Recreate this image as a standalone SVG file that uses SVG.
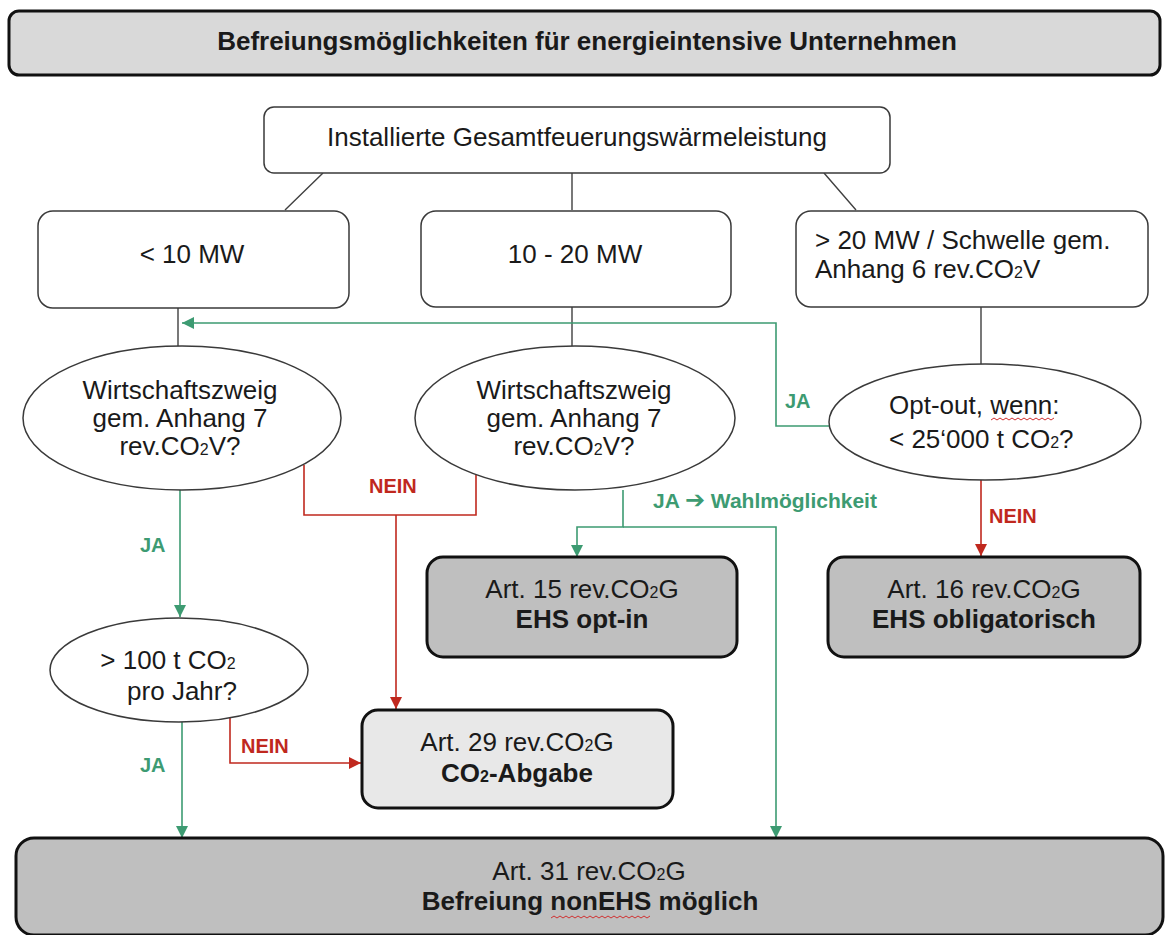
<svg xmlns="http://www.w3.org/2000/svg" width="1165" height="935" viewBox="0 0 1165 935">
<defs>
<style>
text{font-family:"Liberation Sans",Arial,sans-serif;fill:#1a1a1a}
.t{font-size:26px}
.b{font-size:26px;font-weight:bold}
.c{text-anchor:middle}
.sub{font-size:16px}
.lbl{font-size:20px;font-weight:bold}
.g{fill:#3d9b72}
.r{fill:#c0281e}
.thin{fill:#fff;stroke:#3a3a3a;stroke-width:1.5}
.thick{stroke:#111;stroke-width:3}
.blk{fill:none;stroke:#404040;stroke-width:1.4}
.gl{fill:none;stroke:#3d9b72;stroke-width:1.6}
.rl{fill:none;stroke:#c0281e;stroke-width:1.6}
</style>
<marker id="ag" markerUnits="userSpaceOnUse" markerWidth="12" markerHeight="12" refX="12" refY="6" orient="auto"><path d="M0,0 L12,6 L0,12 z" fill="#3d9b72"/></marker>
<marker id="ar" markerUnits="userSpaceOnUse" markerWidth="12" markerHeight="12" refX="12" refY="6" orient="auto"><path d="M0,0 L12,6 L0,12 z" fill="#c0281e"/></marker>
</defs>
<rect width="1165" height="935" fill="#fff"/>

<g id="connectors">
<path class="blk" d="M323,173 L285,210 M572,173 V210 M824,173 L856,210 M178,308 V347 M572,307 V347 M981,307 V365"/>
<path class="gl" d="M830,426 H776 V323 H182" marker-end="url(#ag)"/>
<path class="gl" d="M180,490 V617" marker-end="url(#ag)"/>
<path class="gl" d="M623,490 V527 H577 V557" marker-end="url(#ag)"/>
<path class="gl" d="M623,527 H776 V838" marker-end="url(#ag)"/>
<path class="gl" d="M182,722 V838" marker-end="url(#ag)"/>
<path class="rl" d="M304,465 V515 H476 V475"/>
<path class="rl" d="M396,515 V709" marker-end="url(#ar)"/>
<path class="rl" d="M230,718 V763 H361" marker-end="url(#ar)"/>
<path class="rl" d="M981,480 V556" marker-end="url(#ar)"/>
<text class="lbl g" x="785" y="408">JA</text>
<text class="lbl g" x="140" y="552">JA</text>
<text class="lbl g" x="140" y="772">JA</text>
<text class="lbl r" x="369" y="493">NEIN</text>
<text class="lbl r" x="241" y="753">NEIN</text>
<text class="lbl r" x="989" y="523">NEIN</text>
<text class="lbl g" x="653" y="508" style="font-size:21px">JA <tspan style="font-family:'DejaVu Sans',sans-serif;font-size:24px">➔</tspan> Wahlmöglichkeit</text>
</g>

<g id="title">
<rect x="9" y="11" width="1151" height="64" rx="10" fill="#d9d9d9" class="thick"/>
<text class="b c" x="587" y="50">Befreiungsmöglichkeiten für energieintensive Unternehmen</text>
</g>

<g id="n-leistung">
<rect x="264" y="107" width="626" height="66" rx="10" class="thin"/>
<text class="t c" x="577" y="146">Installierte Gesamtfeuerungswärmeleistung</text>
</g>

<g id="n-lt10">
<rect x="38" y="211" width="311" height="97" rx="15" class="thin"/>
<text class="t c" x="192" y="263">&lt; 10 MW</text>
</g>

<g id="n-10-20">
<rect x="421" y="211" width="310" height="96" rx="15" class="thin"/>
<text class="t c" x="575" y="263">10 - 20 MW</text>
</g>

<g id="n-gt20">
<rect x="796" y="211" width="352" height="96" rx="15" class="thin"/>
<text class="t" x="815" y="249">&gt; 20 MW / Schwelle gem.</text>
<text class="t" x="815" y="278">Anhang 6 rev.CO<tspan class="sub">2</tspan>V</text>
</g>

<g id="q-branche1">
<ellipse cx="182" cy="418" rx="159" ry="72" class="thin"/>
<text class="t c" x="180" y="399">Wirtschaftszweig</text>
<text class="t c" x="180" y="427">gem. Anhang 7</text>
<text class="t c" x="180" y="455">rev.CO<tspan class="sub">2</tspan>V?</text>
</g>

<g id="q-branche2">
<ellipse cx="575" cy="418" rx="160" ry="72" class="thin"/>
<text class="t c" x="574" y="399">Wirtschaftszweig</text>
<text class="t c" x="574" y="427">gem. Anhang 7</text>
<text class="t c" x="574" y="455">rev.CO<tspan class="sub">2</tspan>V?</text>
</g>

<g id="q-optout">
<ellipse cx="985" cy="422" rx="156" ry="58" class="thin"/>
<text class="t" x="889" y="414">Opt-out, wenn:</text>
<text class="t" x="889" y="448">&lt; 25‘000 t CO<tspan class="sub">2</tspan>?</text>
<path d="M991,420 l3,-2 l3,2 l3,-2 l3,2 l3,-2 l3,2 l3,-2 l3,2 l3,-2 l3,2 l3,-2 l3,2 l3,-2 l3,2 l3,-2 l3,2 l3,-2 l3,2 l3,-2 l3,2 l3,-2" fill="none" stroke="#d03030" stroke-width="1"/>
</g>

<g id="q-100t">
<ellipse cx="179" cy="670" rx="129" ry="52" class="thin"/>
<text class="t c" x="168" y="669">&gt; 100 t CO<tspan class="sub">2</tspan></text>
<text class="t c" x="182" y="700">pro Jahr?</text>
</g>

<g id="r-art15">
<rect x="427" y="557" width="310" height="100" rx="16" fill="#bfbfbf" class="thick"/>
<text class="t c" x="582" y="598">Art. 15 rev.CO<tspan class="sub">2</tspan>G</text>
<text class="b c" x="582" y="628">EHS opt-in</text>
</g>

<g id="r-art16">
<rect x="828" y="557" width="312" height="100" rx="16" fill="#bfbfbf" class="thick"/>
<text class="t c" x="984" y="598">Art. 16 rev.CO<tspan class="sub">2</tspan>G</text>
<text class="b c" x="984" y="628">EHS obligatorisch</text>
</g>

<g id="r-art29">
<rect x="362" y="710" width="311" height="98" rx="16" fill="#e8e8e8" class="thick"/>
<text class="t c" x="517" y="751">Art. 29 rev.CO<tspan class="sub">2</tspan>G</text>
<text class="b c" x="517" y="782">CO<tspan class="sub">2</tspan>-Abgabe</text>
</g>

<g id="r-art31">
<rect x="16" y="838" width="1147" height="97" rx="18" fill="#bfbfbf" class="thick"/>
<text class="t c" x="589" y="880">Art. 31 rev.CO<tspan class="sub">2</tspan>G</text>
<text class="b c" x="590" y="910">Befreiung nonEHS möglich</text>
<path d="M551,918 l3,-2 l3,2 l3,-2 l3,2 l3,-2 l3,2 l3,-2 l3,2 l3,-2 l3,2 l3,-2 l3,2 l3,-2 l3,2 l3,-2 l3,2 l3,-2 l3,2 l3,-2 l3,2 l3,-2 l3,2 l3,-2 l3,2 l3,-2 l3,2 l3,-2 l3,2 l3,-2 l3,2 l3,-2 l3,2 l3,-2" fill="none" stroke="#d03030" stroke-width="1"/>
</g>
</svg>
